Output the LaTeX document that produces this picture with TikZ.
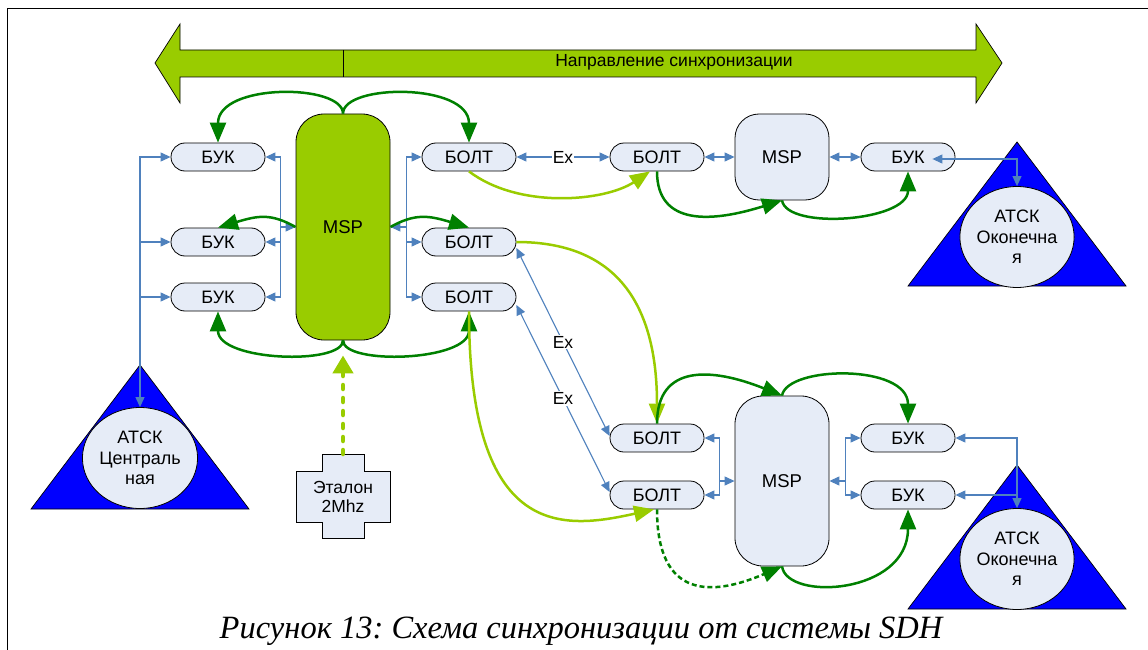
\documentclass[tikz,border=0pt]{standalone}
\usepackage{fontspec}
\setmainfont{Liberation Sans}
\newfontfamily\captionfont{Liberation Serif}
\usetikzlibrary{arrows.meta,shapes.geometric}
\frenchspacing

\definecolor{lgreen}{RGB}{153,204,0}
\definecolor{dgreen}{RGB}{0,128,0}
\definecolor{boxfill}{RGB}{230,236,247}
\definecolor{busblue}{RGB}{79,129,189}

\tikzset{
  box/.style={draw, line width=0.8pt, fill=boxfill, rounded corners=14pt, minimum width=94pt,
    minimum height=28pt, inner sep=0pt, font=\fontsize{18}{21}\selectfont},
  msp/.style={draw, line width=0.8pt, rounded corners=28pt, minimum width=94pt, inner sep=0pt,
    font=\fontsize{18.5}{21}\selectfont},
  atsk/.style={draw, line width=0.8pt, ellipse, fill=boxfill, minimum width=113pt, minimum height=101pt,
    inner sep=0pt, align=center, font=\fontsize{18}{20.5}\selectfont},
  bus/.style={busblue, line width=1.1pt},
  btip/.tip={Triangle[length=10pt,width=9pt]},
  garrow/.style={dgreen, line width=2.5pt, -{Triangle[length=20pt,width=16pt]}},
  lgarrow/.style={lgreen, line width=2.5pt, -{Triangle[length=20pt,width=16pt]}},
  exlabel/.style={fill=white, text=black, inner sep=1pt, font=\fontsize{17.5}{20}\selectfont},
}

\begin{document}
\begin{tikzpicture}[x=1pt, y=-1pt]
\useasboundingbox (0,0) rectangle (1148,650);

% --- Rahmen ---
\draw[line width=1pt] (7,650) -- (7,9) -- (1148,9);

% --- Richtungspfeil oben ---
\draw[fill=lgreen, line width=0.7pt] (155,63) -- (180,24) -- (180,50) -- (976,50) -- (976,24) -- (1002,63)
  -- (976,103) -- (976,77) -- (180,77) -- (180,103) -- cycle;
\draw[line width=0.7pt] (343,50) -- (343,77);
\node[font=\fontsize{17.5}{20}\selectfont] (dir) at (674,62) {Направление синхронизации};

% --- Dreiecke der ATSK ---
\foreach \x/\y in {140/365, 1017/142, 1017/465} {
  \draw[fill=blue, line width=0.7pt] (\x,\y) -- ++(109,144) -- ++(-218,0) -- cycle;
}
\node[atsk] (atsk1) at (140,458) {АТСК\\Централь\\ная};
\node[atsk] (atsk2) at (1017,237) {АТСК\\Оконечна\\я};
\node[atsk] (atsk3) at (1017,559) {АТСК\\Оконечна\\я};

% --- Etalon ---
\draw[fill=boxfill, line width=0.8pt] (322,454) -- (364,454) -- (364,471) -- (390,471) -- (390,522)
  -- (364,522) -- (364,538) -- (322,538) -- (322,522) -- (296,522) -- (296,471) -- (322,471) -- cycle;
\node[align=center, font=\fontsize{17.5}{19}\selectfont] (etalon) at (343,497) {Эталон\\2Mhz};
\coordinate (etalontop) at (343,454);

% --- MSP ---
\node[msp, fill=lgreen, minimum height=226pt] (msp1) at (343,227) {MSP};
\node[msp, fill=boxfill, minimum height=86pt, rounded corners=24pt] (msp2) at (782,157) {MSP};
\node[msp, fill=boxfill, minimum height=170pt] (msp3) at (782,481) {MSP};

% --- BUK und BOLT ---
\foreach \n/\x/\y/\t in {buk1/218/157/БУК, buk2/218/242/БУК, buk3/218/297/БУК,
    bolt1/469/157/БОЛТ, bolt2/469/242/БОЛТ, bolt3/469/297/БОЛТ,
    bolt4/657/157/БОЛТ, buk4/908/157/БУК,
    bolt5/657/438/БОЛТ, bolt6/657/495/БОЛТ, buk5/908/438/БУК, buk6/908/495/БУК} {
  \node[box] (\n) at (\x,\y) {\t};
}

% --- Verzweigungspunkte ---
\coordinate (jl1) at ([xshift=-15pt]msp1.west);
\coordinate (jr1) at ([xshift=16pt]msp1.east);
\coordinate (jl3) at ([xshift=-15pt]msp3.west);
\coordinate (jr3) at ([xshift=16pt]msp3.east);

% --- blaue Leitungen ---
\draw[bus, btip-btip] (buk1.west) -| (atsk1.north);
\draw[bus, -btip] (atsk1.north |- buk2) -- (buk2.west);
\draw[bus, -btip] (atsk1.north |- buk3) -- (buk3.west);

\draw[bus, btip-btip] (buk1.east) -| (jl1) |- (buk3.east);
\draw[bus, -btip] (jl1 |- buk2) -- (buk2.east);
\draw[bus, -btip] (jl1) -- (msp1.west);

\draw[bus, btip-btip] (bolt1.west) -| (jr1) |- (bolt3.west);
\draw[bus, -btip] (jr1 |- bolt2) -- (bolt2.west);
\draw[bus, -btip] (jr1) -- (msp1.east);

\draw[bus, btip-btip] (bolt1.east) -- node[exlabel] {Ex} (bolt4.west);
\draw[bus, btip-btip] (bolt4.east) -- (msp2.west);
\draw[bus, btip-btip] (msp2.east) -- (buk4.west);
\draw[bus, btip-btip] ([xshift=-23pt,yshift=-2pt]buk4.east) -| (atsk2.north);

\draw[bus, btip-btip] ([yshift=-6pt]bolt2.east) -- node[exlabel] {Ex} ([yshift=2pt]bolt5.west);
\draw[bus, btip-btip] ([yshift=-8pt]bolt3.east) -- node[exlabel] {Ex} ([yshift=3pt]bolt6.west);

\draw[bus, btip-btip] (bolt5.east) -| (jl3) |- (bolt6.east);
\draw[bus, -btip] (jl3) -- (msp3.west);
\draw[bus, btip-btip] (buk5.west) -| (jr3) |- (buk6.west);
\draw[bus, -btip] (jr3) -- (msp3.east);
\draw[bus, btip-btip] (buk5.east) -| (atsk3.north);
\draw[bus, -btip] (atsk3.north |- buk6) -- (buk6.east);

% --- Synchronisation, links ---
\draw[garrow] (msp1.north) .. controls +(0,-30) and +(0,-60) .. (buk1.north);
\draw[garrow] (msp1.north) .. controls +(0,-30) and +(0,-60) .. (bolt1.north);
\draw[garrow] (msp1.west) .. controls +(-25,-14) and +(40,-12) .. (buk2.north);
\draw[garrow] (msp1.east) .. controls +(25,-14) and +(-40,-12) .. (bolt2.north);
\draw[garrow] (msp1.south) .. controls +(0,25) and +(0,50) .. (buk3.south);
\draw[garrow] (msp1.south) .. controls +(0,25) and +(0,50) .. (bolt3.south);
\draw[lgreen, line width=4.5pt, line cap=round, dash pattern=on 4pt off 9pt,
  -{Triangle[length=18pt,width=20pt]}, shorten >=15pt] (etalontop) -- (msp1.south);

% --- Synchronisation, oben rechts ---
\draw[lgarrow] (bolt1.south) .. controls +(50,38) and +(-45,30) .. ([xshift=-7pt]bolt4.south);
\draw[garrow] (bolt4.south) .. controls +(0,55) and +(-70,22) .. (msp2.south);
\draw[garrow] (msp2.south) .. controls +(5,30) and +(0,50) .. (buk4.south);

% --- Synchronisation, unten rechts ---
\draw[lgarrow] (bolt2.east) .. controls +(100,0) and +(0,-120) .. (bolt5.north);
\draw[garrow] (bolt5.north) .. controls +(0,-60) and +(-70,-28) .. (msp3.north);
\draw[garrow] (msp3.north) .. controls +(5,-30) and +(0,-60) .. (buk5.north);
\draw[lgarrow] (bolt3.south) .. controls +(0,230) and +(-90,20) .. ([xshift=-3pt]bolt6.south);
\draw[garrow, dash pattern=on 5pt off 3pt] (bolt6.south) .. controls +(0,90) and +(-70,30) .. (msp3.south);
\draw[garrow] (msp3.south) .. controls +(5,35) and +(0,85) .. (buk6.south);

% --- Unterschrift ---
\node[font=\captionfont\itshape\fontsize{32.5}{34}\selectfont] (caption) at (581,631)
  {Рисунок 13: Схема синхронизации от системы SDH};

\end{tikzpicture}
\end{document}
